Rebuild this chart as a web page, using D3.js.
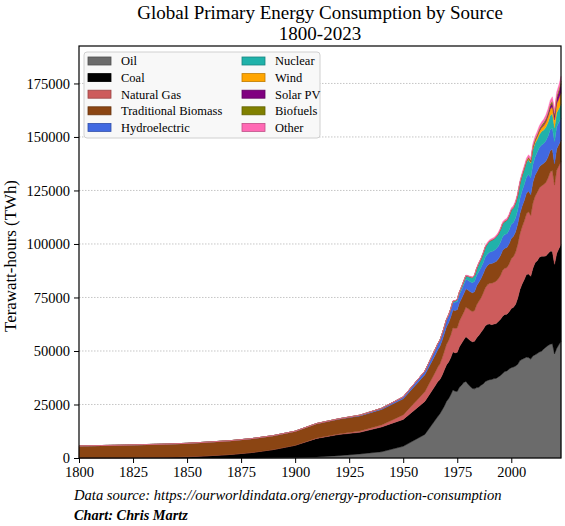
<!DOCTYPE html>
<head>
<meta charset="utf-8">
<title>Global Primary Energy Consumption by Source</title>
<script type="text/javascript" src="https://d3js.org/d3.v7.min.js"></script>
<style>
  body { margin: 0; background: #fff; }
  svg text { font-family: "Liberation Serif", "DejaVu Serif", serif; fill: #000; }
</style>
</head>
<body>
<div id="container"></div>

<script>

//------------------------1. DATA------------------------//
// decade points before 1965, yearly afterwards (TWh)
const years = [1800,1810,1820,1830,1840,1850,1860,1870,1880,1890,1900,1910,1920,1930,1940,1950,1960,
  1965,1966,1967,1968,1969,1970,1971,1972,1973,1974,1975,1976,1977,1978,1979,
  1980,1981,1982,1983,1984,1985,1986,1987,1988,1989,1990,1991,1992,1993,1994,
  1995,1996,1997,1998,1999,2000,2001,2002,2003,2004,2005,2006,2007,2008,2009,
  2010,2011,2012,2013,2014,2015,2016,2017,2018,2019,2020,2021,2022,2023];

const oil = [0,0,0,0,0,0,3,6,33,89,181,500,1100,1900,2900,5444,11000,
  18000,19400,20700,22400,24200, 26400,27700,29600,31800,31200, 31100,33000,34000,35300,35800,
  34500,33400,32500,32300,32900, 33000,34000,34600,35700,36200, 36600,36700,37100,37200,37900,
  38500,39500,40400,40700,41600, 42200,42500,43000,43800,45500, 46100,46600,47100,46900,46200,
  47700,48200,48800,49500,49900, 50900,51800,52600,53100,53400, 48600,51200,52900,54400];

const coal = [97,128,153,264,356,569,1061,1642,2542,3856,5728,8656,9833,10125,11586,12603,15442,
  16100,16300,16000,16300,16900, 17100,17100,17300,17800,17900, 18300,19000,19600,19900,20900,
  21300,21500,21800,22300,23300, 24300,24700,25500,26100,26300, 26000,25600,25500,25600,25900,
  26300,26700,26700,26500,26700, 27600,27900,28800,31000,33200, 35200,36800,38600,39100,38700,
  41000,43000,43400,44300,44400, 43400,42600,43000,43500,43200, 41900,44300,44900,45300];

const gas = [0,0,0,0,0,0,0,0,0,36,64,181,250,550,900,2092,4500,
  6300,6800,7300,8000,8700, 9500,10100,10600,11200,11400, 11400,12000,12400,12900,13700,
  14000,14100,14100,14300,15400, 15900,16200,17000,17700,18400, 19000,19400,19500,19800,19900,
  20500,21500,21500,21800,22400, 23300,23700,24400,25100,26000, 26700,27300,28300,29000,28400,
  30400,31100,32000,32400,32800, 33500,34300,35200,37000,37700, 37000,38900,38600,38800];

const biomass = [5556,5700,5850,6000,6150,6300,6400,6450,6500,6500,6500,6700,6900,7100,7300,7500,7900,
  8100,8130,8170,8200,8230, 8260,8300,8340,8380,8420, 8460,8500,8540,8590,8630,
  8680,8720,8770,8820,8860, 8910,8950,9000,9050,9090, 9140,9170,9210,9240,9270,
  9300,9340,9370,9400,9430, 9470,9490,9520,9560,9590, 9620,9650,9680,9710,9740,
  9770,9790,9820,9840,9870, 9890,9910,9930,9950,9970, 9990,10010,10030,10050];

const hydro = [0,0,0,0,0,0,0,0,0,0,48,100,200,350,550,900,1700,
  2560,2700,2780,2880,3040, 3180,3320,3440,3530,3800, 3850,3900,3980,4250,4430,
  4520,4580,4700,4870,4980, 5050,5120,5180,5330,5320, 5470,5600,5600,5880,5950,
  6230,6300,6400,6430,6450, 6600,6450,6550,6550,6950, 7200,7450,7550,7900,7950,
  8300,8400,8800,9000,9300, 9300,9600,9650,9850,9950, 10350,10250,10400,10150];

const nuclear = [0,0,0,0,0,0,0,0,0,0,0,0,0,0,0,0,0,
  70,90,110,140,160, 230,320,430,570,720, 1000,1150,1400,1650,1730,
  1920,2250,2400,2700,3150, 3750,4000,4350,4700,4850, 5100,5350,5400,5550,5700,
  5900,6150,6150,6250,6500, 6650,6800,6900,6800,7050, 7050,7100,6900,6850,6750,
  6900,6550,6100,6150,6250, 6300,6350,6400,6550,6700, 6450,6650,6350,6550];

const wind = [0,0,0,0,0,0,0,0,0,0,0,0,0,0,0,0,0,
  0,0,0,0,0, 0,0,0,0,0, 0,0,0,0,0,
  0,0,0,1,1, 2,3,4,5,7, 10,10,12,14,18,
  20,30,30,40,55, 80,100,140,170,220, 270,340,440,570,720,
  900,1130,1360,1620,1790, 2060,2390,2770,3010,3290, 3690,4210,4750,5350];

const solar = [0,0,0,0,0,0,0,0,0,0,0,0,0,0,0,0,0,
  0,0,0,0,0, 0,0,0,0,0, 0,0,0,0,0,
  0,0,0,0,0, 1,1,1,1,1, 1,1,1,2,2,
  2,2,2,2,3, 3,4,5,6,7, 10,14,20,35,55,
  90,170,270,360,500, 640,850,1150,1450,1780, 2140,2590,3250,4300];

const biofuels = [0,0,0,0,0,0,0,0,0,0,0,0,0,0,0,0,0,
  0,0,0,0,0, 0,0,0,0,0, 0,0,0,5,10,
  25,35,50,65,75, 80,80,90,90,95, 100,100,105,105,110,
  115,120,130,130,130, 130,140,160,190,210, 250,320,400,520,590,
  660,680,690,740,800, 840,860,890,960,1020, 950,1030,1110,1250];

const other = [0,0,0,0,0,0,0,0,0,0,0,0,0,0,20,50,80,
  100,105,115,125,140, 150,160,175,185,200, 220,230,250,265,280,
  300,330,355,390,420, 450,485,505,540,575, 600,625,640,655,680,
  700,720,735,760,775, 800,820,860,880,920, 950,1000,1040,1100,1140,
  1200,1250,1320,1380,1430, 1500,1580,1640,1720,1770, 1850,1890,1950,2200];

const sources = ["Oil","Coal","Natural Gas","Traditional Biomass","Hydroelectric",
                 "Nuclear","Wind","Solar PV","Biofuels","Other"];
const colors = ["#6b6b6b","#000000","#cd5c5c","#8b4513","#4169e1",
                "#20b2aa","#ffa500","#800080","#808000","#ff69b4"];
const series = [oil, coal, gas, biomass, hydro, nuclear, wind, solar, biofuels, other];

const yTicks = [0,25000,50000,75000,100000,125000,150000,175000];
const xTicks = [1800,1825,1850,1875,1900,1925,1950,1975,2000];

//------------------------2. PREPARATION------------------------//
const W = 565, H = 526;
const mLeft = 79, mRight = 561, mTop = 46, mBottom = 458;

const svg = d3.select("div#container").append("svg")
    .attr("width", W)
    .attr("height", H);

const rows = years.map(function(y, i) {
    const r = { year: y };
    sources.forEach(function(s, k) { r[s] = series[k][i]; });
    return r;
});

const stacked = d3.stack().keys(sources)(rows);

const xScale = d3.scaleLinear().domain([1800, 2023]).range([mLeft, mRight]);
const yScale = d3.scaleLinear().domain([0, 192500]).range([mBottom, mTop]);

// fit a text node to a width (fonts differ from the original)
function fit(sel, width) {
    const fs = parseFloat(sel.style("font-size"));
    const len = sel.node().getComputedTextLength();
    sel.style("font-size", (fs * width / len) + "px");
}

//------------------------3. DRAWING------------------------//
// grid
svg.append("g")
    .selectAll("line")
    .data(yTicks.slice(1))
    .enter().append("line")
    .attr("x1", mLeft).attr("x2", mRight)
    .attr("y1", d => yScale(d)).attr("y2", d => yScale(d))
    .attr("stroke", "#b8b8b8")
    .attr("stroke-width", 0.8)
    .attr("stroke-dasharray", "1.5,1.5");

// areas
const area = d3.area()
    .x(d => xScale(d.data.year))
    .y0(d => yScale(d[0]))
    .y1(d => yScale(d[1]));

svg.append("g")
    .selectAll("path")
    .data(stacked)
    .enter().append("path")
    .attr("d", area)
    .attr("fill", (d, i) => colors[i])
    .attr("stroke", (d, i) => colors[i])
    .attr("stroke-width", 0.4);

// axes
const xaxis = d3.axisBottom(xScale)
    .tickValues(xTicks)
    .tickFormat(d3.format("d"))
    .tickSizeOuter(0)
    .tickSizeInner(5);

const yaxis = d3.axisLeft(yScale)
    .tickValues(yTicks)
    .tickFormat(d3.format("d"))
    .tickSizeOuter(0)
    .tickSizeInner(5);

const gx = svg.append("g")
    .attr("transform", "translate(0," + mBottom + ")")
    .call(xaxis);
const gy = svg.append("g")
    .attr("transform", "translate(" + mLeft + ",0)")
    .call(yaxis);

[gx, gy].forEach(function(g) {
    g.select(".domain").remove();
    g.selectAll(".tick line").attr("stroke", "#000").attr("stroke-width", 1);
    g.selectAll(".tick text")
        .style("font-family", "Liberation Serif")
        .style("font-size", "14.5px");
});
gx.selectAll(".tick text").attr("dy", "0").attr("y", 19);
gy.selectAll(".tick text").attr("x", -9).attr("dy", "0.33em");

// frame
svg.append("rect")
    .attr("x", mLeft).attr("y", mTop)
    .attr("width", mRight - mLeft).attr("height", mBottom - mTop)
    .attr("fill", "none")
    .attr("stroke", "#000")
    .attr("stroke-width", 1.2);

// legend
const lg = svg.append("g");
lg.append("rect")
    .attr("x", 84).attr("y", 52)
    .attr("width", 236).attr("height", 86)
    .attr("rx", 3)
    .attr("fill", "#f8f8f8")
    .attr("stroke", "#d0d0d0");

const items = lg.selectAll("g.item")
    .data(sources)
    .enter().append("g")
    .attr("transform", (d, i) => "translate(" + (i < 5 ? 88 : 242) + "," + (61 + (i % 5) * 16.6) + ")");

items.append("rect")
    .attr("x", 0).attr("y", -4)
    .attr("width", 23).attr("height", 8)
    .attr("fill", (d, i) => colors[i])
    .attr("stroke", (d, i) => d3.color(colors[i]).darker(0.8))
    .attr("stroke-width", 0.8);

items.append("text")
    .attr("x", 33)
    .attr("dy", "0.35em")
    .style("font-size", "12.5px")
    .text(d => d);

// titles
const t1 = svg.append("text")
    .attr("x", 320).attr("y", 19)
    .attr("text-anchor", "middle")
    .style("font-size", "19px")
    .text("Global Primary Energy Consumption by Source");
fit(t1, 366);

svg.append("text")
    .attr("x", 320).attr("y", 40)
    .attr("text-anchor", "middle")
    .style("font-size", t1.style("font-size"))
    .text("1800-2023");

const yl = svg.append("text")
    .attr("transform", "translate(16,256) rotate(-90)")
    .attr("text-anchor", "middle")
    .style("font-size", "16px")
    .text("Terawatt-hours (TWh)");
fit(yl, 152);

const f1 = svg.append("text")
    .attr("x", 74).attr("y", 500)
    .style("font-size", "14px")
    .style("font-style", "italic")
    .text("Data source: https://ourworldindata.org/energy-production-consumption");
fit(f1, 428);

const f2 = svg.append("text")
    .attr("x", 74).attr("y", 520)
    .style("font-size", "14px")
    .style("font-style", "italic")
    .style("font-weight", "bold")
    .text("Chart: Chris Martz");
fit(f2, 114);

</script>
</body>
